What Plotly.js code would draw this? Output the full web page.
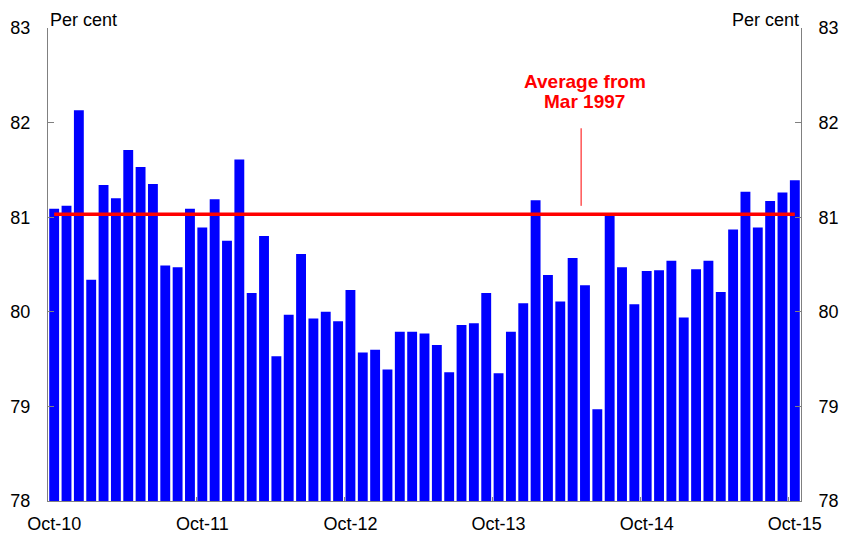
<!DOCTYPE html>
<html>
<head>
<meta charset="utf-8">
<script src="https://cdn.plot.ly/plotly-3.0.1.min.js"></script>
<style>
  html, body { margin: 0; padding: 0; background: #fff; }
  #grafico { width: 842px; height: 533px; }
</style>
</head>
<body>
<div id="grafico"></div>
<script>
// meses Oct-10 .. Oct-15
const meses = [
    "Oct-10", "Nov-10", "Dec-10",
    "Jan-11", "Feb-11", "Mar-11", "Apr-11", "May-11", "Jun-11", "Jul-11", "Aug-11", "Sep-11", "Oct-11", "Nov-11", "Dec-11",
    "Jan-12", "Feb-12", "Mar-12", "Apr-12", "May-12", "Jun-12", "Jul-12", "Aug-12", "Sep-12", "Oct-12", "Nov-12", "Dec-12",
    "Jan-13", "Feb-13", "Mar-13", "Apr-13", "May-13", "Jun-13", "Jul-13", "Aug-13", "Sep-13", "Oct-13", "Nov-13", "Dec-13",
    "Jan-14", "Feb-14", "Mar-14", "Apr-14", "May-14", "Jun-14", "Jul-14", "Aug-14", "Sep-14", "Oct-14", "Nov-14", "Dec-14",
    "Jan-15", "Feb-15", "Mar-15", "Apr-15", "May-15", "Jun-15", "Jul-15", "Aug-15", "Sep-15", "Oct-15"
];

const valores = [
    81.09, 81.12, 82.13,
    80.34, 81.34, 81.20, 81.71, 81.53, 81.35, 80.49, 80.47, 81.09, 80.89, 81.19, 80.75,
    81.61, 80.20, 80.80, 79.53, 79.97, 80.61, 79.93, 80.00, 79.90, 80.23, 79.57, 79.60,
    79.39, 79.79, 79.79, 79.77, 79.65, 79.36, 79.86, 79.88, 80.20, 79.35, 79.79, 80.09,
    81.18, 80.39, 80.11, 80.57, 80.28, 78.97, 81.04, 80.47, 80.08, 80.43, 80.44, 80.54,
    79.94, 80.45, 80.54, 80.21, 80.87, 81.27, 80.89, 81.17, 81.26, 81.39
];

const promedio = 81.03;
const ticksY = [78, 79, 80, 81, 82, 83];

const fuente = { family: "Liberation Sans, Arial, sans-serif", size: 18, color: "#000" };
const fuenteRoja = { family: "Liberation Sans, Arial, sans-serif", size: 19, color: "#FF0000" };

const trazas = [
    {
        type: "bar",
        x: meses,
        y: valores,
        marker: { color: "#0000FF" },
        hoverinfo: "x+y",
        xaxis: "x",
        yaxis: "y"
    },
    {
        type: "scatter",
        mode: "lines",
        x: [meses[0], meses[meses.length - 1]],
        y: [promedio, promedio],
        line: { color: "#FF0000", width: 3.5 },
        xaxis: "x",
        yaxis: "y2"
    }
];

const ejeY = {
    range: [78, 83],
    tickvals: ticksY,
    ticks: "inside",
    ticklen: 6,
    tickcolor: "#808080",
    showline: true,
    linecolor: "#808080",
    linewidth: 1,
    showgrid: false,
    zeroline: false,
    tickfont: fuente,
    ticklabelstandoff: 13,
    fixedrange: true
};

const layout = {
    width: 842,
    height: 533,
    margin: { l: 48, r: 41, t: 28, b: 32 },
    paper_bgcolor: "#fff",
    plot_bgcolor: "#fff",
    showlegend: false,
    bargap: 0.2,
    xaxis: {
        type: "category",
        range: [-0.5, meses.length - 0.5],
        dtick: 12,
        tick0: 0,
        tickson: "boundaries",
        ticks: "inside",
        ticklen: 4,
        tickcolor: "#808080",
        showline: true,
        linecolor: "#808080",
        showgrid: false,
        tickangle: 0,
        tickfont: fuente,
        ticklabelstandoff: 6,
        fixedrange: true
    },
    yaxis: Object.assign({}, ejeY, { side: "left" }),
    yaxis2: Object.assign({}, ejeY, { side: "right", overlaying: "y" }),
    shapes: [
        {
            type: "line",
            xref: "paper", yref: "y",
            x0: 0.708, x1: 0.708,
            y0: 81.12, y1: 81.94,
            line: { color: "#FF0000", width: 1 }
        }
    ],
    annotations: [
        {
            text: "Per cent",
            xref: "paper", yref: "paper",
            x: 0, y: 1, xanchor: "left", yanchor: "bottom",
            yshift: -4,
            showarrow: false,
            font: fuente
        },
        {
            text: "Per cent",
            xref: "paper", yref: "paper",
            x: 1, y: 1, xanchor: "right", yanchor: "bottom",
            yshift: -4,
            showarrow: false,
            font: fuente
        },
        {
            text: "<b>Average from</b>",
            xref: "paper", yref: "paper",
            x: 0.713, y: 0.886,
            xanchor: "center", yanchor: "middle",
            showarrow: false,
            font: fuenteRoja
        },
        {
            text: "<b>Mar 1997</b>",
            xref: "paper", yref: "paper",
            x: 0.713, y: 0.844,
            xanchor: "center", yanchor: "middle",
            showarrow: false,
            font: fuenteRoja
        }
    ]
};

Plotly.newPlot("grafico", trazas, layout, { displayModeBar: false, staticPlot: true });
</script>
</body>
</html>
